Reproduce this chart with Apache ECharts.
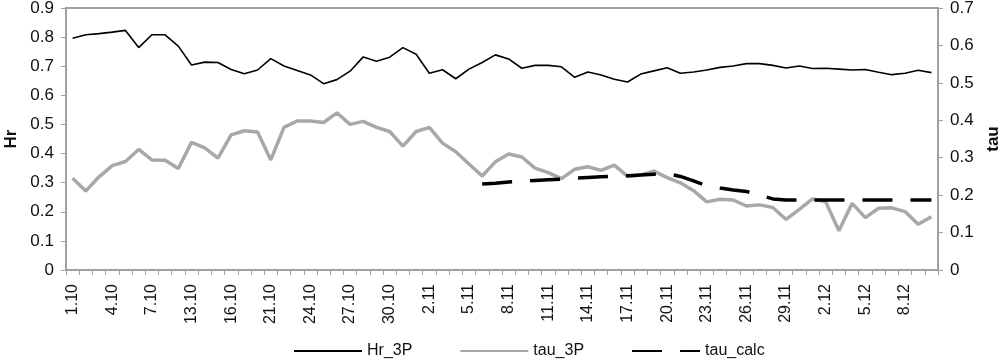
<!DOCTYPE html>
<html>
<head>
<meta charset="utf-8">
<script src="https://cdn.jsdelivr.net/npm/echarts@6/dist/echarts.min.js"></script>
<style>html,body{margin:0;padding:0;background:#fff}#c{width:1000px;height:359px}</style>
</head>
<body>
<div id="c"></div>
<script>
const categories = ['1.10','2.10','3.10','4.10','5.10','6.10','7.10','8.10','12.10','13.10',
'14.10','15.10','16.10','17.10','20.10','21.10','22.10','23.10','24.10','25.10',
'26.10','27.10','28.10','29.10','30.10','31.10','1.11','2.11','3.11','4.11',
'5.11','6.11','7.11','8.11','9.11','10.11','11.11','12.11','13.11','14.11',
'15.11','16.11','17.11','18.11','19.11','20.11','21.11','22.11','23.11','24.11',
'25.11','26.11','27.11','28.11','29.11','30.11','1.12','2.12','3.12','4.12',
'5.12','6.12','7.12','8.12','9.12','10.12'];

const hr3P = [0.796,0.808,0.812,0.817,0.823,0.764,0.808,0.808,0.769,0.704,
0.714,0.713,0.689,0.674,0.687,0.726,0.701,0.685,0.670,0.640,
0.654,0.683,0.732,0.717,0.731,0.764,0.741,0.676,0.688,0.657,
0.690,0.713,0.739,0.725,0.693,0.703,0.703,0.698,0.662,0.680,
0.670,0.655,0.646,0.673,0.684,0.695,0.676,0.680,0.687,0.696,
0.701,0.709,0.709,0.703,0.694,0.701,0.692,0.693,0.690,0.687,
0.689,0.679,0.671,0.676,0.686,0.678];

const tau3P = [0.245,0.211,0.249,0.279,0.290,0.322,0.294,0.293,0.271,0.341,
0.326,0.299,0.361,0.372,0.369,0.294,0.381,0.398,0.398,0.394,
0.420,0.389,0.397,0.381,0.370,0.331,0.370,0.381,0.339,0.316,
0.283,0.251,0.289,0.310,0.302,0.272,0.260,0.244,0.269,0.276,
0.266,0.280,0.250,0.254,0.264,0.247,0.233,0.212,0.182,0.189,
0.187,0.171,0.174,0.167,0.135,0.162,0.190,0.182,0.105,0.178,
0.140,0.165,0.166,0.156,0.122,0.142];

const tauCalc = [null,null,null,null,null,null,null,null,null,null,
null,null,null,null,null,null,null,null,null,null,
null,null,null,null,null,null,null,null,null,null,
null,0.230,0.232,0.235,0.237,0.239,0.241,0.243,0.245,0.247,
0.249,0.251,0.252,0.254,0.256,0.258,0.250,0.238,0.225,0.219,
0.214,0.210,0.200,0.190,0.187,0.187,0.187,0.187,0.187,0.187,
0.187,0.187,0.187,0.187,0.187,0.187];

const leftTicks = [0, 0.9, 0.1];
const rightTicks = [0, 0.7, 0.1];

const FONT = 'Liberation Sans';
const AX = '#a0a0a0';

const chart = echarts.init(document.getElementById('c'), null, {renderer:'canvas'});
chart.setOption({
  animation: false,
  textStyle: {fontFamily: FONT},
  grid: {left: 66, right: 62, top: 8, bottom: 89, outerBoundsMode: 'none', containLabel: false,
         show: true, borderColor: AX, borderWidth: 2, backgroundColor: 'transparent'},
  legend: {
    left: 288, top: 338, itemWidth: 68, itemHeight: 14, itemGap: 47,
    itemStyle: {opacity: 0},
    textStyle: {fontFamily: FONT, fontSize: 16, color: '#111'},
    data: ['Hr_3P','tau_3P','tau_calc']
  },
  xAxis: {
    type: 'category', data: categories, boundaryGap: true,
    axisLine: {lineStyle: {color: AX, width: 2}},
    axisTick: {show: true, interval: 0, length: 5, lineStyle: {color: AX, width: 1}},
    axisLabel: {interval: 2, rotate: 90, margin: 14, fontSize: 16, color: '#111', fontFamily: FONT},
    splitLine: {show: false}
  },
  yAxis: [{
    type: 'value', min: leftTicks[0], max: leftTicks[1], interval: leftTicks[2],
    name: 'Hr', nameLocation: 'middle', nameGap: 45, nameRotate: 90,
    nameTextStyle: {fontFamily: FONT, fontSize: 17, fontWeight: 'bold', color: '#111'},
    axisLine: {show: true, lineStyle: {color: AX, width: 2}},
    axisTick: {show: true, length: 5, lineStyle: {color: AX}},
    axisLabel: {margin: 12, fontSize: 17, color: '#111', fontFamily: FONT, formatter: v => String(+v.toFixed(1))},
    splitLine: {show: false}
  }, {
    type: 'value', min: rightTicks[0], max: rightTicks[1], interval: rightTicks[2], position: 'right',
    name: 'tau', nameLocation: 'middle', nameGap: 45, nameRotate: 90,
    nameTextStyle: {fontFamily: FONT, fontSize: 17, fontWeight: 'bold', color: '#111'},
    axisLine: {show: true, lineStyle: {color: AX, width: 2}},
    axisTick: {show: true, length: 5, lineStyle: {color: AX}},
    axisLabel: {margin: 12, fontSize: 17, color: '#111', fontFamily: FONT, formatter: v => String(+v.toFixed(1))},
    splitLine: {show: false}
  }],
  series: [{
    name: 'Hr_3P', type: 'line', yAxisIndex: 0, data: hr3P, symbol: 'none',
    lineStyle: {color: '#000', width: 1.6}, itemStyle: {color: '#000'}
  }, {
    name: 'tau_3P', type: 'line', yAxisIndex: 1, data: tau3P, symbol: 'none',
    lineStyle: {color: '#a8a8a8', width: 3.5}, itemStyle: {color: '#a8a8a8'}
  }, {
    name: 'tau_calc', type: 'line', yAxisIndex: 1, data: tauCalc, symbol: 'none',
    lineStyle: {color: '#000', width: 3.5, type: [30, 18]}, itemStyle: {color: '#000'}
  }]
});
</script>
</body>
</html>
